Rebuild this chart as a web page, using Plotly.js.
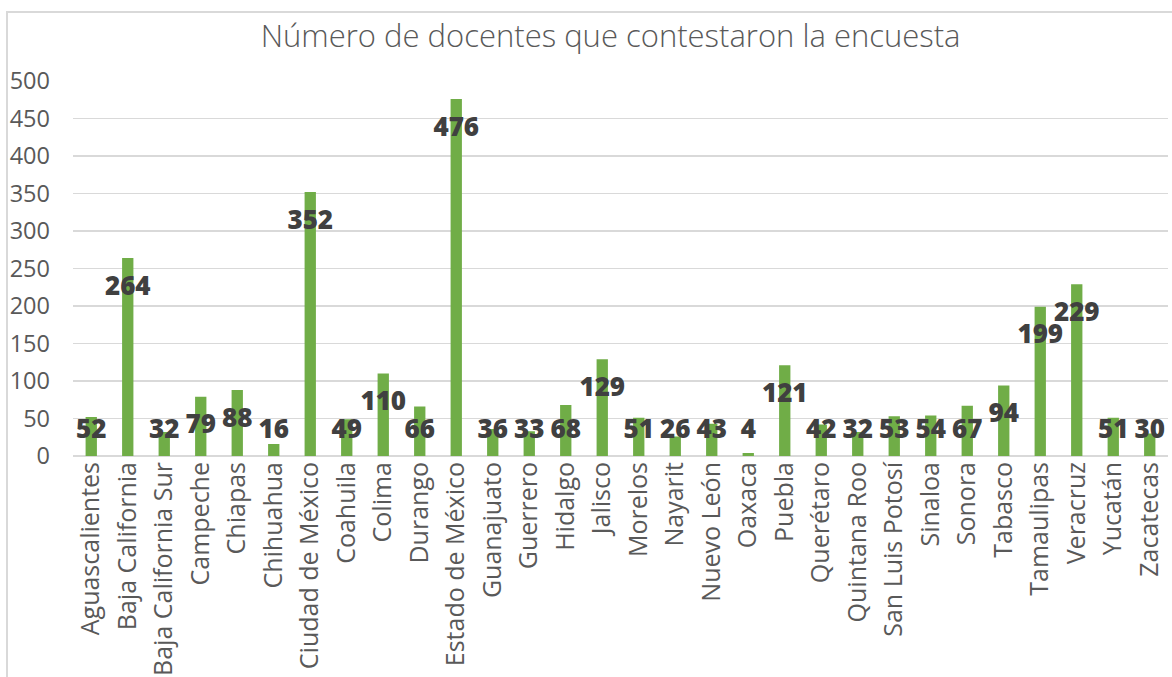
<!DOCTYPE html>
<html>
<head>
<meta charset="utf-8">
<script src="https://cdn.plot.ly/plotly-3.0.1.min.js"></script>
<style>
html,body{margin:0;padding:0;background:#fff;overflow:hidden;}
#chart{width:1172px;height:677px;}
#frame{position:absolute;left:6px;top:11px;width:1300px;height:800px;border:2px solid #d9d9d9;pointer-events:none;box-sizing:border-box;}
</style>
</head>
<body>
<div id="chart"></div>
<div id="frame"></div>
<script>
var categories = ["Aguascalientes","Baja California","Baja California Sur","Campeche","Chiapas","Chihuahua","Ciudad de México","Coahuila","Colima","Durango","Estado de México","Guanajuato","Guerrero","Hidalgo","Jalisco","Morelos","Nayarit","Nuevo León","Oaxaca","Puebla","Querétaro","Quintana Roo","San Luis Potosí","Sinaloa","Sonora","Tabasco","Tamaulipas","Veracruz","Yucatán","Zacatecas"];
var docentes = [52,264,32,79,88,16,352,49,110,66,476,36,33,68,129,51,26,43,4,121,42,32,53,54,67,94,199,229,51,30];
var yTicks = [0,50,100,150,200,250,300,350,400,450,500];
var titleText = "Número de docentes que contestaron la encuesta";

// label placement: inside end, kept above the bottom when the bar is short
var labelY = docentes.map(function(v){ return Math.max(v - 40, 33); });

var bars = {
  type: "bar",
  x: categories,
  y: docentes,
  marker: {color: "#70ad47"},
  hoverinfo: "x+y"
};
var labels = {
  type: "scatter",
  mode: "text",
  x: categories,
  y: labelY,
  text: docentes.map(String),
  textposition: "middle center",
  textfont: {family: "Open Sans", size: 26, color: "#404040", weight: 800},
  hoverinfo: "skip",
  cliponaxis: false
};

var layout = {
  width: 1172, height: 677,
  margin: {l: 73, r: 4, t: 81, b: 221},
  paper_bgcolor: "#ffffff",
  plot_bgcolor: "#ffffff",
  showlegend: false,
  bargap: 0.69,
  title: {
    text: titleText,
    font: {family: "Open Sans", size: 31, color: "#595959", weight: 300},
    xref: "container", x: 0.521, xanchor: "center",
    yref: "container", y: 0.947, yanchor: "middle"
  },
  xaxis: {
    type: "category",
    range: [-0.5, 29.5],
    tickangle: -90,
    tickfont: {family: "Open Sans", size: 25, color: "#595959"},
    showgrid: false,
    showline: false,
    ticks: "",
    automargin: false
  },
  yaxis: {
    range: [0, 500],
    tickvals: yTicks,
    ticktext: yTicks.map(String),
    tickfont: {family: "Open Sans", size: 23.5, color: "#595959"},
    showgrid: true,
    gridcolor: "#d9d9d9",
    gridwidth: 1.5,
    zeroline: true,
    zerolinecolor: "#d9d9d9",
    zerolinewidth: 1.5,
    showline: false,
    ticks: "",
    ticklabelstandoff: 22,
    automargin: false
  }
};

Plotly.newPlot("chart", [bars, labels], layout, {displayModeBar: false, staticPlot: true});
</script>
</body>
</html>
